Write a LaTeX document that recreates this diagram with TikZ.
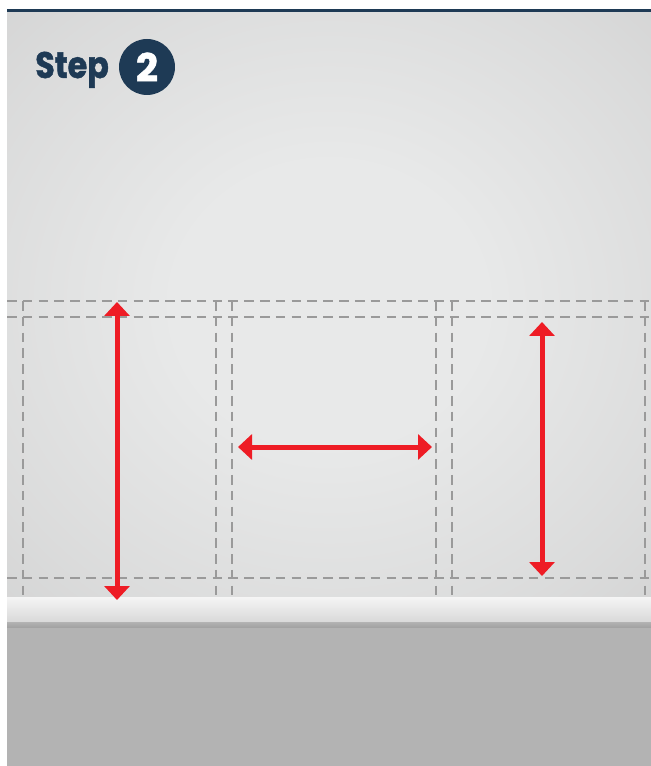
\documentclass[tikz,border=0pt]{standalone}
\usepackage{fontspec}
\newfontfamily\stepfont{Poppins}[BoldFeatures={FakeBold=1.3}]
\usepackage{tikz}
\usetikzlibrary{arrows.meta}

\definecolor{navy}{HTML}{1E3A55}
\definecolor{arrred}{HTML}{EE1C25}
\definecolor{guide}{HTML}{9A9A9A}
\definecolor{floorgray}{HTML}{B3B3B3}
\definecolor{walllight}{HTML}{E8E9E9}
\definecolor{walldark}{HTML}{CACACA}

\pgfdeclareradialshading{wallshade}{\pgfpoint{0bp}{0bp}}{%
    color(0bp)=(walllight); color(12bp)=(walllight); color(30bp)=(walldark!45!walllight);
    color(48bp)=(walldark); color(100bp)=(walldark)}

\begin{document}
\begin{tikzpicture}[
    x=0.02cm, y=-0.02cm,
    guideline/.style={draw=guide, line width=0.9pt, dash pattern=on 5.5pt off 3.5pt},
    arr/.style={{Triangle[length=0.28cm, width=0.5cm]}-{Triangle[length=0.28cm, width=0.5cm]},
                draw=arrred, line width=0.1cm},
    steptext/.style={font=\stepfont\bfseries\fontsize{21}{21}\selectfont, text=navy,
                     inner sep=0pt, xscale=0.86, transform shape},
    stepnum/.style={circle, fill=navy, minimum size=1.12cm, inner sep=0pt,
                    font=\stepfont\bfseries\fontsize{22}{22}\selectfont, text=white},
]
\useasboundingbox (0,0) rectangle (651,766);

% Wall, skirting and floor
\shade[shading=wallshade] (7,12) rectangle (651,597);
\fill[navy] (7,9) rectangle (651,12);
\shade[top color=gray!8!white, bottom color=gray!30!white] (7,597) rectangle (651,622);
\shade[top color=gray!60!white, bottom color=gray!75!white] (7,622) rectangle (651,628);
\fill[floorgray] (7,628) rectangle (651,766);

% Guide lines
\foreach \gy in {301, 317, 578}
    \draw[guideline] (7,\gy) -- (651,\gy);
\foreach \gx in {23, 216, 232, 436, 452, 645}
    \draw[guideline] (\gx,301) -- (\gx,597);

% Step label
\node[steptext, anchor=base west] (steplbl) at (35,78) {Step};
\node[stepnum] (stepno) at (147,67) {2};

% Measuring arrows
\coordinate (lefttop) at (117,302);
\coordinate (leftbot) at (117,600);
\coordinate (midleft) at (238,447);
\coordinate (midright) at (432,447);
\coordinate (righttop) at (542,322);
\coordinate (rightbot) at (542,576);

\draw[arr] (lefttop) -- (leftbot);
\draw[arr] (midleft) -- (midright);
\draw[arr] (righttop) -- (rightbot);

\end{tikzpicture}
\end{document}
